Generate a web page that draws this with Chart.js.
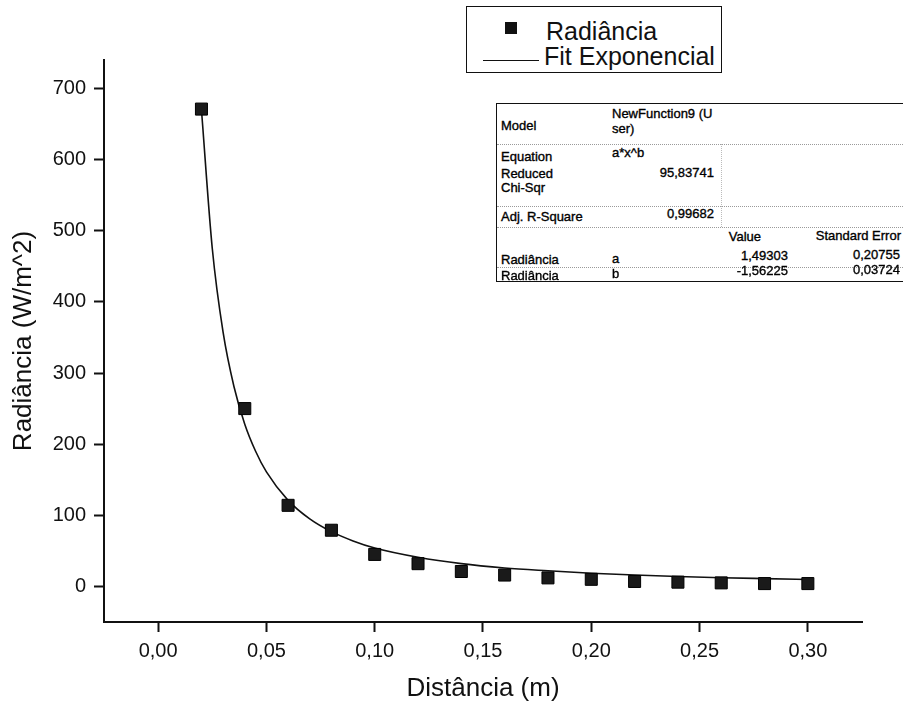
<!DOCTYPE html>
<html lang="pt-BR">
<head>
<meta charset="utf-8">
<title>Radiância x Distância</title>
<script src="https://cdn.jsdelivr.net/npm/chart.js@4.4.1/dist/chart.umd.min.js"></script>
<style>
    body { margin: 0; background: #fff; overflow: hidden; font-family: "Liberation Sans", Arial, sans-serif; color: #111; }
    #quadro { position: relative; width: 903px; height: 705px; }
    #grafico { position: absolute; left: 0; top: 0; }

    .legenda { position: absolute; left: 466px; top: 6px; width: 254px; height: 65px; border: 1.5px solid #111; background: #fff; }
    .legenda .quadrado { position: absolute; left: 38px; top: 15px; width: 12px; height: 12px; background: #111; }
    .legenda .linha { position: absolute; left: 16px; top: 53px; width: 56px; border-top: 1.5px solid #111; }
    .legenda span { position: absolute; font-size: 25px; line-height: 30px; white-space: nowrap; }

    .tabela { position: absolute; left: 496px; top: 103px; width: 440px; height: 177px; border: 1.5px solid #111; border-right: none; background: #fff; font-size: 13px; color: #000; }
    .tabela span { position: absolute; line-height: 15px; white-space: nowrap; -webkit-text-stroke: 0.35px #000; }
    .tabela .dir { transform: translateX(-100%); }
    .tabela .sep { position: absolute; left: 0; width: 100%; border-top: 1px dotted #9a9a9a; }
    .tabela .vert { position: absolute; left: 224px; top: 40px; height: 83px; border-left: 1px dotted #bbb; }
</style>
</head>
<body>
<div id="quadro">
    <canvas id="grafico" width="903" height="705"></canvas>

    <div class="legenda">
        <div class="quadrado"></div>
        <span style="left:79px; top:9px">Radiância</span>
        <div class="linha"></div>
        <span style="left:77px; top:34px">Fit Exponencial</span>
    </div>

    <div class="tabela">
        <span style="left:4px; top:14px">Model</span>
        <span style="left:115px; top:2px">NewFunction9 (U</span>
        <span style="left:115px; top:17px">ser)</span>
        <div class="sep" style="top:40px"></div>
        <div class="vert"></div>

        <span style="left:4px; top:45px">Equation</span>
        <span style="left:115px; top:41px">a*x^b</span>
        <span style="left:4px; top:62px">Reduced</span>
        <span style="left:4px; top:76px">Chi-Sqr</span>
        <span class="dir" style="left:217px; top:61px">95,83741</span>
        <div class="sep" style="top:102px"></div>

        <span style="left:4px; top:105px">Adj. R-Square</span>
        <span class="dir" style="left:217px; top:102px">0,99682</span>
        <div class="sep" style="top:123px"></div>

        <span class="dir" style="left:264px; top:125px">Value</span>
        <span class="dir" style="left:404px; top:124px">Standard Error</span>

        <span style="left:4px; top:148px">Radiância</span>
        <span style="left:115px; top:147px">a</span>
        <span class="dir" style="left:291px; top:144px">1,49303</span>
        <span class="dir" style="left:403px; top:143px">0,20755</span>
        <div class="sep" style="top:163px"></div>

        <span style="left:4px; top:164px">Radiância</span>
        <span style="left:115px; top:162px">b</span>
        <span class="dir" style="left:291px; top:159px">-1,56225</span>
        <span class="dir" style="left:403px; top:158px">0,03724</span>
    </div>
</div>

<script>
// dados medidos
const distancias = [0.02, 0.04, 0.06, 0.08, 0.10, 0.12, 0.14, 0.16, 0.18, 0.20, 0.22, 0.24, 0.26, 0.28, 0.30]
const radiancias = [671, 250, 114, 79, 45, 32, 21, 16, 12, 10, 7, 6, 5, 4, 4]

// curva do ajuste
const fitDistancias = [0.02, 0.025, 0.03, 0.035, 0.04, 0.045, 0.05, 0.06, 0.07, 0.08, 0.09, 0.10, 0.12, 0.14, 0.16, 0.18, 0.20, 0.22, 0.24, 0.26, 0.28, 0.30]
const fitRadiancias = [670, 475, 357, 281, 228, 190, 161, 121, 95, 77, 64, 54, 41, 32, 26, 22, 18.5, 16, 14, 12.3, 11, 9.8]

// eixos
const limitesX = [-0.025, 0.325]
const limitesY = [-50, 740]
const rotulosX = ['0,00', '0,05', '0,10', '0,15', '0,20', '0,25', '0,30']
const rotulosY = ['0', '100', '200', '300', '400', '500', '600', '700']

const FONTE = '"Liberation Sans", Arial, sans-serif'

const ehMultiplo = (v, passo) => Math.abs(v / passo - Math.round(v / passo)) < 1e-6

const rotuloX = (v) => {
    if (!ehMultiplo(v, 0.05)) return null
    const i = Math.round(v / 0.05)
    return rotulosX[i] ?? null
}

const rotuloY = (v) => {
    if (!ehMultiplo(v, 100)) return null
    const i = Math.round(v / 100)
    return rotulosY[i] ?? null
}

/* --- ticks menores (estilo Origin) --- */
const ticksMenores = {
    id: 'ticksMenores',
    afterDraw: (chart) => {

        const ctx = chart.ctx
        const { x, y } = chart.scales

        ctx.save()
        ctx.strokeStyle = '#111'
        ctx.lineWidth = 2
        ctx.beginPath()

        x.ticks.forEach(t => {
            if (!ehMultiplo(t.value, 0.025) || rotuloX(t.value) !== null) return
            const px = x.getPixelForValue(t.value)
            ctx.moveTo(px, x.top)
            ctx.lineTo(px, x.top + 5)
        })

        y.ticks.forEach(t => {
            if (!ehMultiplo(t.value, 50) || rotuloY(t.value) !== null) return
            const py = y.getPixelForValue(t.value)
            ctx.moveTo(y.right, py)
            ctx.lineTo(y.right - 5, py)
        })

        ctx.stroke()
        ctx.restore()
    }
}

const ctxGrafico = document.getElementById('grafico').getContext('2d')

new Chart(ctxGrafico, {
    type: 'scatter',
    data: {
        datasets: [
            {
                label: 'Radiância',
                data: distancias.map((d, i) => ({ x: d, y: radiancias[i] })),
                pointStyle: 'rect',
                pointRadius: 8.5,
                backgroundColor: '#1a1a1a',
                borderColor: '#000',
                borderWidth: 1,
                order: 0
            },
            {
                label: 'Fit Exponencial',
                data: fitDistancias.map((d, i) => ({ x: d, y: fitRadiancias[i] })),
                showLine: true,
                pointRadius: 0,
                borderColor: '#111',
                borderWidth: 1.6,
                cubicInterpolationMode: 'monotone',
                order: 1
            }
        ]
    },

    options: {
        responsive: false,
        animation: false,
        layout: { padding: { top: 60, right: 41, bottom: 0, left: 0 } },
        plugins: {
            legend: { display: false },
            tooltip: { enabled: false }
        },
        scales: {
            x: {
                type: 'linear',
                min: limitesX[0],
                max: limitesX[1],
                afterFit: (escala) => { escala.height = 83 },
                border: { color: '#111', width: 2 },
                grid: {
                    drawOnChartArea: false,
                    tickLength: 10,
                    tickWidth: 2,
                    tickColor: (c) => (c.tick && rotuloX(c.tick.value) !== null) ? '#111' : 'rgba(0,0,0,0)'
                },
                ticks: {
                    stepSize: 0.025,
                    autoSkip: false,
                    maxRotation: 0,
                    padding: 7,
                    color: '#111',
                    font: { family: FONTE, size: 20 },
                    callback: (v) => rotuloX(v)
                },
                title: {
                    display: true,
                    text: 'Distância (m)',
                    color: '#111',
                    font: { family: FONTE, size: 26 },
                    padding: { top: 0, bottom: 1 }
                }
            },
            y: {
                min: limitesY[0],
                max: limitesY[1],
                afterFit: (escala) => { escala.width = 104 },
                border: { color: '#111', width: 2 },
                grid: {
                    drawOnChartArea: false,
                    tickLength: 10,
                    tickWidth: 2,
                    tickColor: (c) => (c.tick && rotuloY(c.tick.value) !== null) ? '#111' : 'rgba(0,0,0,0)'
                },
                ticks: {
                    stepSize: 50,
                    autoSkip: false,
                    padding: 8,
                    color: '#111',
                    font: { family: FONTE, size: 20 },
                    callback: (v) => rotuloY(v)
                },
                title: {
                    display: true,
                    text: 'Radiância (W/m^2)',
                    color: '#111',
                    font: { family: FONTE, size: 26 },
                    padding: { top: 8, bottom: 0 }
                }
            }
        }
    },

    plugins: [ticksMenores]
})
</script>
</body>
</html>
